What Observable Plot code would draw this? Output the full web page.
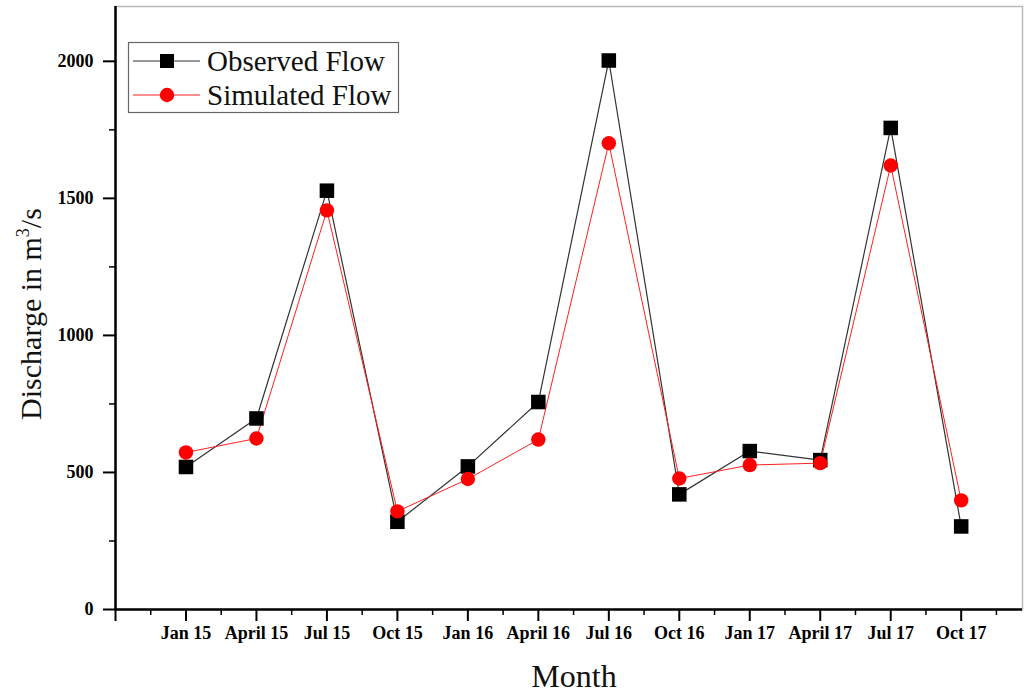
<!DOCTYPE html>
<html><head><meta charset="utf-8">
<script src="https://cdn.jsdelivr.net/npm/d3@7"></script>
<script src="https://cdn.jsdelivr.net/npm/@observablehq/plot@0.6"></script>
<style>body{margin:0;background:#fff} #chart{width:1028px;height:696px}</style>
</head><body><div id="chart"></div>
<script>
const months = ["Jan 15","April 15","Jul 15","Oct 15","Jan 16","April 16","Jul 16","Oct 16","Jan 17","April 17","Jul 17","Oct 17"];
const observed = [520,697,1528,320,522,757,2003,420,578,545,1757,303];
const simulated = [573,624,1456,358,476,620,1701,478,527,534,1620,398];
const seriesNames = ["Observed Flow","Simulated Flow"];
const yTicks = [0,500,1000,1500,2000];
const yMinorTicks = [250,750,1250,1750];

const obsData = months.map((m,i)=>({i, month:m, series:seriesNames[0], value:observed[i]}));
const simData = months.map((m,i)=>({i, month:m, series:seriesNames[1], value:simulated[i]}));
const serif = "'Liberation Serif','Times New Roman',serif";

const chart = Plot.plot({
  width:1028, height:696,
  marginLeft:115, marginRight:6, marginTop:6, marginBottom:87,
  x:{domain:[-1, 11.87]},
  y:{domain:[0,2200]},
  style:{fontFamily:serif, background:"#fff", color:"#000"},
  marks:[
    Plot.frame({stroke:"#bbb", strokeWidth:1.5}),
    Plot.axisX({ticks:d3.range(-0.5, 12, 1), tickSize:6, text:null, strokeWidth:1.5, label:null}),
    Plot.axisX({ticks:d3.range(-1, 12), tickSize:12, tickFormat:i => months[i] ?? "", fontWeight:"bold", fontSize:18, tickPadding:5, strokeWidth:2, label:null}),
    Plot.axisY({ticks:yMinorTicks, tickSize:6, text:null, strokeWidth:1.5, label:null}),
    Plot.axisY({ticks:yTicks, tickSize:12, tickPadding:10, tickFormat:d => String(d), fontWeight:"bold", fontSize:18, strokeWidth:2, label:null}),
    Plot.ruleX([-1], {strokeWidth:2.5, stroke:"#000"}),
    Plot.ruleY([0], {strokeWidth:2.5, stroke:"#000"}),
    Plot.line(obsData, {x:"i", y:"value", stroke:"#333", strokeWidth:1.2}),
    Plot.line(simData, {x:"i", y:"value", stroke:"#ff2020", strokeWidth:1}),
    Plot.dot(obsData, {x:"i", y:"value", symbol:"square", r:8.2, fill:"#000", stroke:"none"}),
    Plot.dot(simData, {x:"i", y:"value", symbol:"circle", r:7.2, fill:"#ff0000", stroke:"none"})
  ]
});
document.getElementById("chart").appendChild(chart);

const svg = d3.select(chart);
// Legend
const lg = svg.append("g").attr("font-family", serif).attr("text-anchor","start");
lg.append("rect").attr("x",128.5).attr("y",42.5).attr("width",270).attr("height",70)
  .attr("fill","#fff").attr("stroke","#666").attr("stroke-width",1.2);
const rows = [{name:seriesNames[0], color:"#333", sym:"square", y:61},{name:seriesNames[1], color:"#ff2020", sym:"circle", y:95}];
rows.forEach(r=>{
  lg.append("line").attr("x1",133).attr("x2",200).attr("y1",r.y).attr("y2",r.y).attr("stroke",r.color).attr("stroke-width",1.2);
  if (r.sym==="square") lg.append("rect").attr("x",160).attr("y",r.y-7).attr("width",14).attr("height",14).attr("fill","#000");
  else lg.append("circle").attr("cx",167).attr("cy",r.y).attr("r",7.2).attr("fill","#ff0000");
  lg.append("text").attr("x",207).attr("y",r.y).attr("dy","0.35em").attr("text-anchor","start")
    .attr("font-size",29).attr("fill","#111").text(r.name);
});
// Axis titles
svg.append("text").attr("x",574).attr("y",687).attr("text-anchor","middle")
  .attr("font-family",serif).attr("font-size",32).attr("fill","#111").text("Month");
const yt = svg.append("text").attr("transform","translate(41,314) rotate(-90)").attr("text-anchor","middle")
  .attr("font-family",serif).attr("font-size",30).attr("fill","#111");
yt.append("tspan").text("Discharge in m");
yt.append("tspan").attr("font-size",18).attr("dy",-12).text("3");
yt.append("tspan").attr("dy",12).text("/s");
</script>
</body></html>
